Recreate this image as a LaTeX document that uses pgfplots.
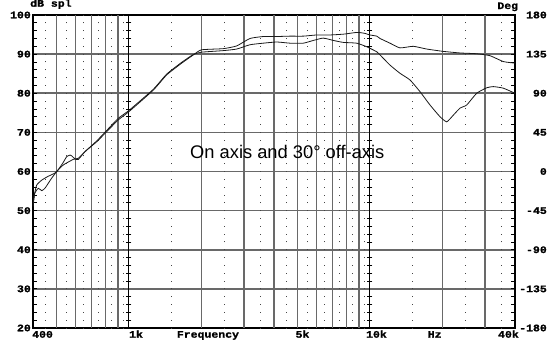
\documentclass[border=0pt]{standalone}
\usepackage{fontspec}
\setmainfont{Liberation Sans}
\newfontfamily\lblfont[FakeStretch=1.15, BoldFeatures={FakeBold=1.2}]{Liberation Mono}
\usepackage{pgfplots}
\pgfplotsset{compat=1.18}
\definecolor{gridc}{RGB}{105,105,105}
\definecolor{dotc}{RGB}{70,70,70}
\definecolor{curvec}{RGB}{25,25,25}
\newcommand{\lbl}{\fontsize{10}{12}\selectfont\lblfont\bfseries}
\begin{document}
\begin{tikzpicture}
\useasboundingbox (-33pt,-28pt) rectangle (517pt,328pt);
\begin{axis}[
  at={(0pt,0pt)}, anchor=south west,
  scale only axis, width=482pt, height=313pt,
  xmode=log, xmin=400, xmax=40000, ymin=20, ymax=100,
  clip=false,
  axis line style={black, line width=1.4pt},
  xtick=\empty,
  ymajorgrids,
  major grid style={gridc, line width=1.6pt},
  ytick={20,30,40,50,60,70,80,90,100},
  yticklabels={20,30,40,50,60,70,80,90,100},
  minor ytick={22,24,26,28,32,34,36,38,42,44,46,48,52,54,56,58,62,64,66,68,72,74,76,78,82,84,86,88,92,94,96,98},
  ytick style={black, line width=0.8pt},
  minor y tick style={black, line width=0.8pt},
  major tick length=4pt, minor tick length=4pt,
  yticklabel style={font=\lbl, anchor=east, inner sep=0pt, xshift=-2pt},
]
% vertical grid lines
\pgfplotsinvokeforeach{500,600,700,800,900,2000,3000,4000,5000,6000,7000,8000,9000,20000,30000}{
  \addplot[gridc, line width=1.6pt, forget plot] coordinates {(#1,20) (#1,100)};
}
% dotted minor grid
\pgfplotsinvokeforeach{450,550,650,750,850,950,1500,2500,3500,4500,5500,6500,7500,8500,9500,15000,25000,35000}{
  \addplot[dotc, line width=0.9pt, dash pattern=on 0.9pt off 6.925pt, dash phase=0.45pt, forget plot] coordinates {(#1,20) (#1,100)};
}
% 1k and 10k lines with ruler ticks
\addplot[black, line width=0.9pt, forget plot] coordinates {(1000,20) (1000,100)};
\addplot[black, line width=0.9pt, forget plot] coordinates {(10000,20) (10000,100)};
\addplot[only marks, mark=-, mark size=2.5pt, black, mark options={line width=0.8pt}, forget plot] coordinates {
(1000,22)(1000,24)(1000,26)(1000,28)(1000,32)(1000,34)(1000,36)(1000,38)
(1000,42)(1000,44)(1000,46)(1000,48)(1000,52)(1000,54)(1000,56)(1000,58)
(1000,62)(1000,64)(1000,66)(1000,68)(1000,72)(1000,74)(1000,76)(1000,78)
(1000,82)(1000,84)(1000,86)(1000,88)(1000,92)(1000,94)(1000,96)(1000,98)};
\addplot[only marks, mark=-, mark size=2.5pt, black, mark options={line width=0.8pt}, forget plot] coordinates {
(10000,22)(10000,24)(10000,26)(10000,28)(10000,32)(10000,34)(10000,36)(10000,38)
(10000,42)(10000,44)(10000,46)(10000,48)(10000,52)(10000,54)(10000,56)(10000,58)
(10000,62)(10000,64)(10000,66)(10000,68)(10000,72)(10000,74)(10000,76)(10000,78)
(10000,82)(10000,84)(10000,86)(10000,88)(10000,92)(10000,94)(10000,96)(10000,98)};
% curve 1 (upper at HF)
\addplot[curvec, line width=0.8pt, smooth, tension=0.3] coordinates {
(400,51.5)(404,53.6)(414,56.5)(435,57.8)(460,58.7)(490,59.5)(502,60.0)(530,62.0)
(552,63.8)(570,64.2)(579,64.0)(598,63.2)(617,63.1)(658,65.1)(735,67.6)(809,70.2)
(904,73.2)(1000,75.3)(1262,80.8)(1435,84.7)(1656,87.7)(1851,89.8)(2000,91.1)
(2465,91.4)(2800,92.1)(3180,94.0)(3610,94.5)(4105,94.5)(4662,94.6)(5293,94.6)
(6017,94.9)(6830,94.9)(7757,95.1)(8674,95.5)(9095,95.5)(9539,95.3)(10000,94.9)
(10673,94.6)(11016,94.0)(12116,92.8)(13332,91.6)(15137,92.0)(17205,91.3)(20166,90.7)
(23651,90.3)(27735,90.1)(31500,89.6)(35771,88.1)(40000,87.7)};
% curve 2 (lower at HF, dip near 20k)
\addplot[curvec, line width=0.8pt, smooth, tension=0.3] coordinates {
(400,51.0)(407,54.5)(421,55.7)(435,55.1)(448,55.7)(463,57.0)(478,58.3)(502,60.0)
(535,61.7)(588,63.1)(617,63.4)(658,65.1)(735,67.8)(809,70.5)(904,73.6)(1000,75.6)
(1262,81.0)(1435,84.9)(1656,87.9)(1851,89.9)(2000,90.5)(2465,90.9)(2800,91.3)
(3180,92.4)(3610,92.8)(4105,93.1)(4662,92.8)(5293,92.8)(5824,93.5)(6407,94.1)
(7052,93.5)(7757,93.0)(8815,92.8)(9696,91.9)(10000,91.5)(10673,90.6)(11016,89.8)
(12116,87.2)(13332,85.1)(14668,83.4)(16140,80.4)(17759,77.0)(19540,74.0)(20833,72.7)
(22185,74.4)(23651,76.2)(25216,77.0)(27735,80.0)(30525,81.4)(32512,81.7)(35771,81.3)
(40000,80.0)};
% annotations
\node[font=\fontsize{18.3}{20}\selectfont, anchor=base west, inner sep=0pt] at (axis cs:1793,63.37) {On axis and 30° off-axis};
\node[font=\lbl, anchor=base west, inner sep=0pt] at ([xshift=-1pt,yshift=-9.7pt]axis cs:400,20) {400};
\node[font=\lbl, anchor=base west, inner sep=0pt] at ([yshift=-9.7pt]axis cs:1000,20) {1k};
\node[font=\lbl, anchor=base, inner sep=0pt] at ([yshift=-9.7pt]axis cs:2128,20) {Frequency};
\node[font=\lbl, anchor=base west, inner sep=0pt] at ([xshift=-2pt,yshift=-9.7pt]axis cs:5000,20) {5k};
\node[font=\lbl, anchor=base west, inner sep=0pt] at ([xshift=-4pt,yshift=-9.7pt]axis cs:10000,20) {10k};
\node[font=\lbl, anchor=base, inner sep=0pt] at ([yshift=-9.7pt]axis cs:18572,20) {Hz};
\node[font=\lbl, anchor=base east, inner sep=0pt] at ([xshift=4pt,yshift=-9.7pt]axis cs:40000,20) {40k};
\node[font=\lbl, anchor=base west, inner sep=0pt] at ([xshift=-3pt,yshift=8.3pt]axis cs:400,100) {dB spl};
\node[font=\lbl, anchor=base east, inner sep=0pt] at ([xshift=3.3pt,yshift=6pt]axis cs:40000,100) {Deg};
\end{axis}
\begin{axis}[
  at={(0pt,0pt)}, anchor=south west,
  scale only axis, width=482pt, height=313pt,
  xmode=log, xmin=400, xmax=40000, ymin=-180, ymax=180,
  axis line style={draw=none}, xtick=\empty,
  yticklabel pos=right,
  ytick={-180,-135,-90,-45,0,45,90,135,180},
  yticklabels={-180,-135,-90,-45,0,45,90,135,180},
  ytick style={draw=none}, major tick length=0pt,
  yticklabel style={font=\lbl, anchor=east, inner sep=0pt, xshift=32pt},
]
\end{axis}
\end{tikzpicture}
\end{document}
